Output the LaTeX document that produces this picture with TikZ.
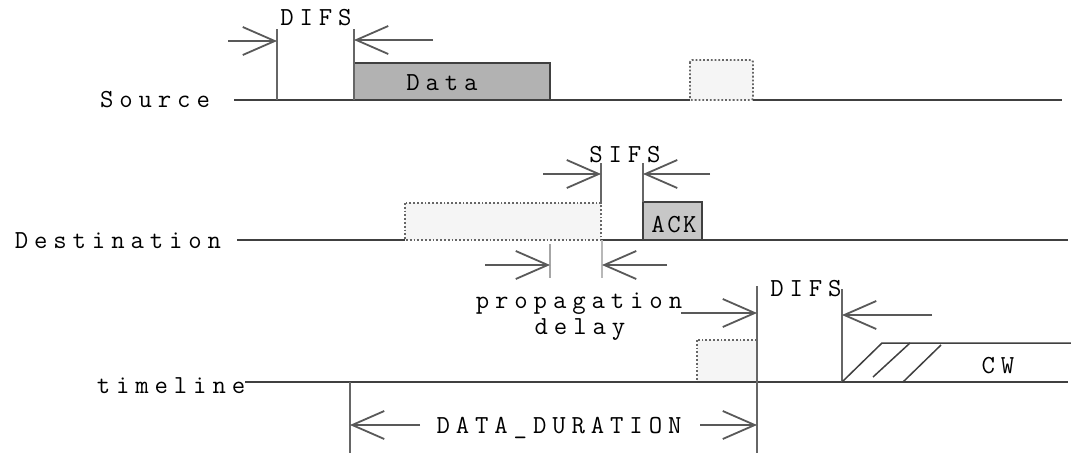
\documentclass[tikz,border=0pt]{standalone}
\usepackage{fontspec}
\usetikzlibrary{arrows.meta}
\makeatletter
\newcommand\tlspaced[2][5.9pt]{\@tfor\tl@chr:=#2\do{\tl@chr\kern#1}\unkern}
\makeatother
\tikzset{
  axis/.style={line width=1.5pt, draw=black!75},
  bar/.style={line width=1.8pt, draw=black!60},
  lightbar/.style={line width=1.8pt, draw=black!35},
  span/.style={line width=1.8pt, draw=black!65, -{Straight Barb[length=32pt,width=28pt]}},
  framebox/.style={draw=black!75, line width=1.6pt, fill=black!30},
  ghostbox/.style={draw=black!60, line width=1.8pt, dotted, fill=black!4},
  lbl/.style={font=\ttfamily\fontsize{26}{28}\selectfont, inner sep=0pt, anchor=base}
}
\begin{document}
\begin{tikzpicture}[x=1pt,y=-1pt]
    \fill[white] (0,0) rectangle (1071,458);
    \useasboundingbox (0,0) rectangle (1071,458);

    \coordinate (s0) at (234,100);
    \coordinate (s1) at (1062,100);
    \coordinate (difsa) at (277,29);
    \coordinate (difsb) at (354,29);
    \coordinate (fa) at (228,41);
    \coordinate (fb) at (433,40);
    \draw[framebox] (354,63) rectangle (550,100);
    \draw[ghostbox, rounded corners=2pt] (690,60) rectangle (753,100);
    \draw[axis] (s0) -- (690,100) (753,100) -- (s1);
    \draw[bar] (difsa) -- (difsa |- s0);
    \draw[bar] (difsb) -- (difsb |- s0);
    \draw[span] (fa) -- (fa -| difsa);
    \draw[span] (fb) -- (fb -| difsb);
    \node[lbl] (src) at (155,107) {\tlspaced{Source}};
    \node[lbl] (difs1) at (316,25) {\tlspaced{DIFS}};
    \node[lbl] (data) at (442,90) {\tlspaced{Data}};

    \coordinate (d0) at (237,240);
    \coordinate (d1) at (1068,240);
    \coordinate (sifsa) at (601,163);
    \coordinate (sifsb) at (643,163);
    \coordinate (fc) at (543,174);
    \coordinate (fd) at (710,174);
    \coordinate (propa) at (550,244);
    \coordinate (propb) at (602,240);
    \coordinate (fe) at (485,265);
    \coordinate (ff) at (667,265);
    \draw[ghostbox] (405,203) rectangle (601,240);
    \draw[framebox, fill=black!22] (643,202) rectangle (702,240);
    \draw[axis] (d0) -- (405,240) (601,240) -- (d1);
    \draw[bar] (sifsa) -- (601,203);
    \draw[bar] (sifsb) -- (643,202);
    \draw[span] (fc) -- (fc -| sifsa);
    \draw[span] (fd) -- (fd -| sifsb);
    \draw[lightbar] (propa) -- (550,278);
    \draw[lightbar, draw=black!28] (propb) -- (602,278);
    \draw[span] (fe) -- (fe -| propa);
    \draw[span] (ff) -- (ff -| propb);
    \node[lbl] (dst) at (118,248) {\tlspaced{Destination}};
    \node[lbl] (sifs) at (625,162) {\tlspaced{SIFS}};
    \node[lbl] (ack) at (674,232) {\tlspaced[2.5pt]{ACK}};
    \node[lbl] (prop) at (579,308) {\tlspaced{propagation}};
    \node[lbl] (delay) at (580,334) {\tlspaced{delay}};

    \coordinate (t0) at (245,382);
    \coordinate (t1) at (1068,382);
    \coordinate (dda) at (350,382);
    \coordinate (ddb) at (757,286);
    \coordinate (difsc) at (842,289);
    \coordinate (fg) at (420,425);
    \coordinate (fh) at (700,425);
    \coordinate (fi) at (681,313);
    \coordinate (fj) at (932,315);
    \coordinate (cwa) at (882,343);
    \coordinate (cwb) at (1071,343);
    \draw[ghostbox] (697,340) rectangle (757,382);
    \draw[axis] (t0) -- (t1);
    \draw[bar] (dda) -- (350,453);
    \draw[bar] (ddb) -- (757,453);
    \draw[bar] (difsc) -- (difsc |- t0);
    \draw[span] (fg) -- (fg -| dda);
    \draw[span] (fh) -- (fh -| ddb);
    \draw[span] (fi) -- (fi -| ddb);
    \draw[span] (fj) -- (fj -| difsc);
    \draw[axis] (difsc |- t0) -- (cwa) -- (cwb);
    \draw[axis] (873,377) -- (910,343);
    \draw[axis] (903,382) -- (941,345);
    \node[lbl] (tml) at (171,393) {\tlspaced{timeline}};
    \node[lbl] (dd) at (559,433) {\tlspaced{DATA\_DURATION}};
    \node[lbl] (difs2) at (806,296) {\tlspaced{DIFS}};
    \node[lbl] (cw) at (998,373) {\tlspaced{CW}};
\end{tikzpicture}
\end{document}
